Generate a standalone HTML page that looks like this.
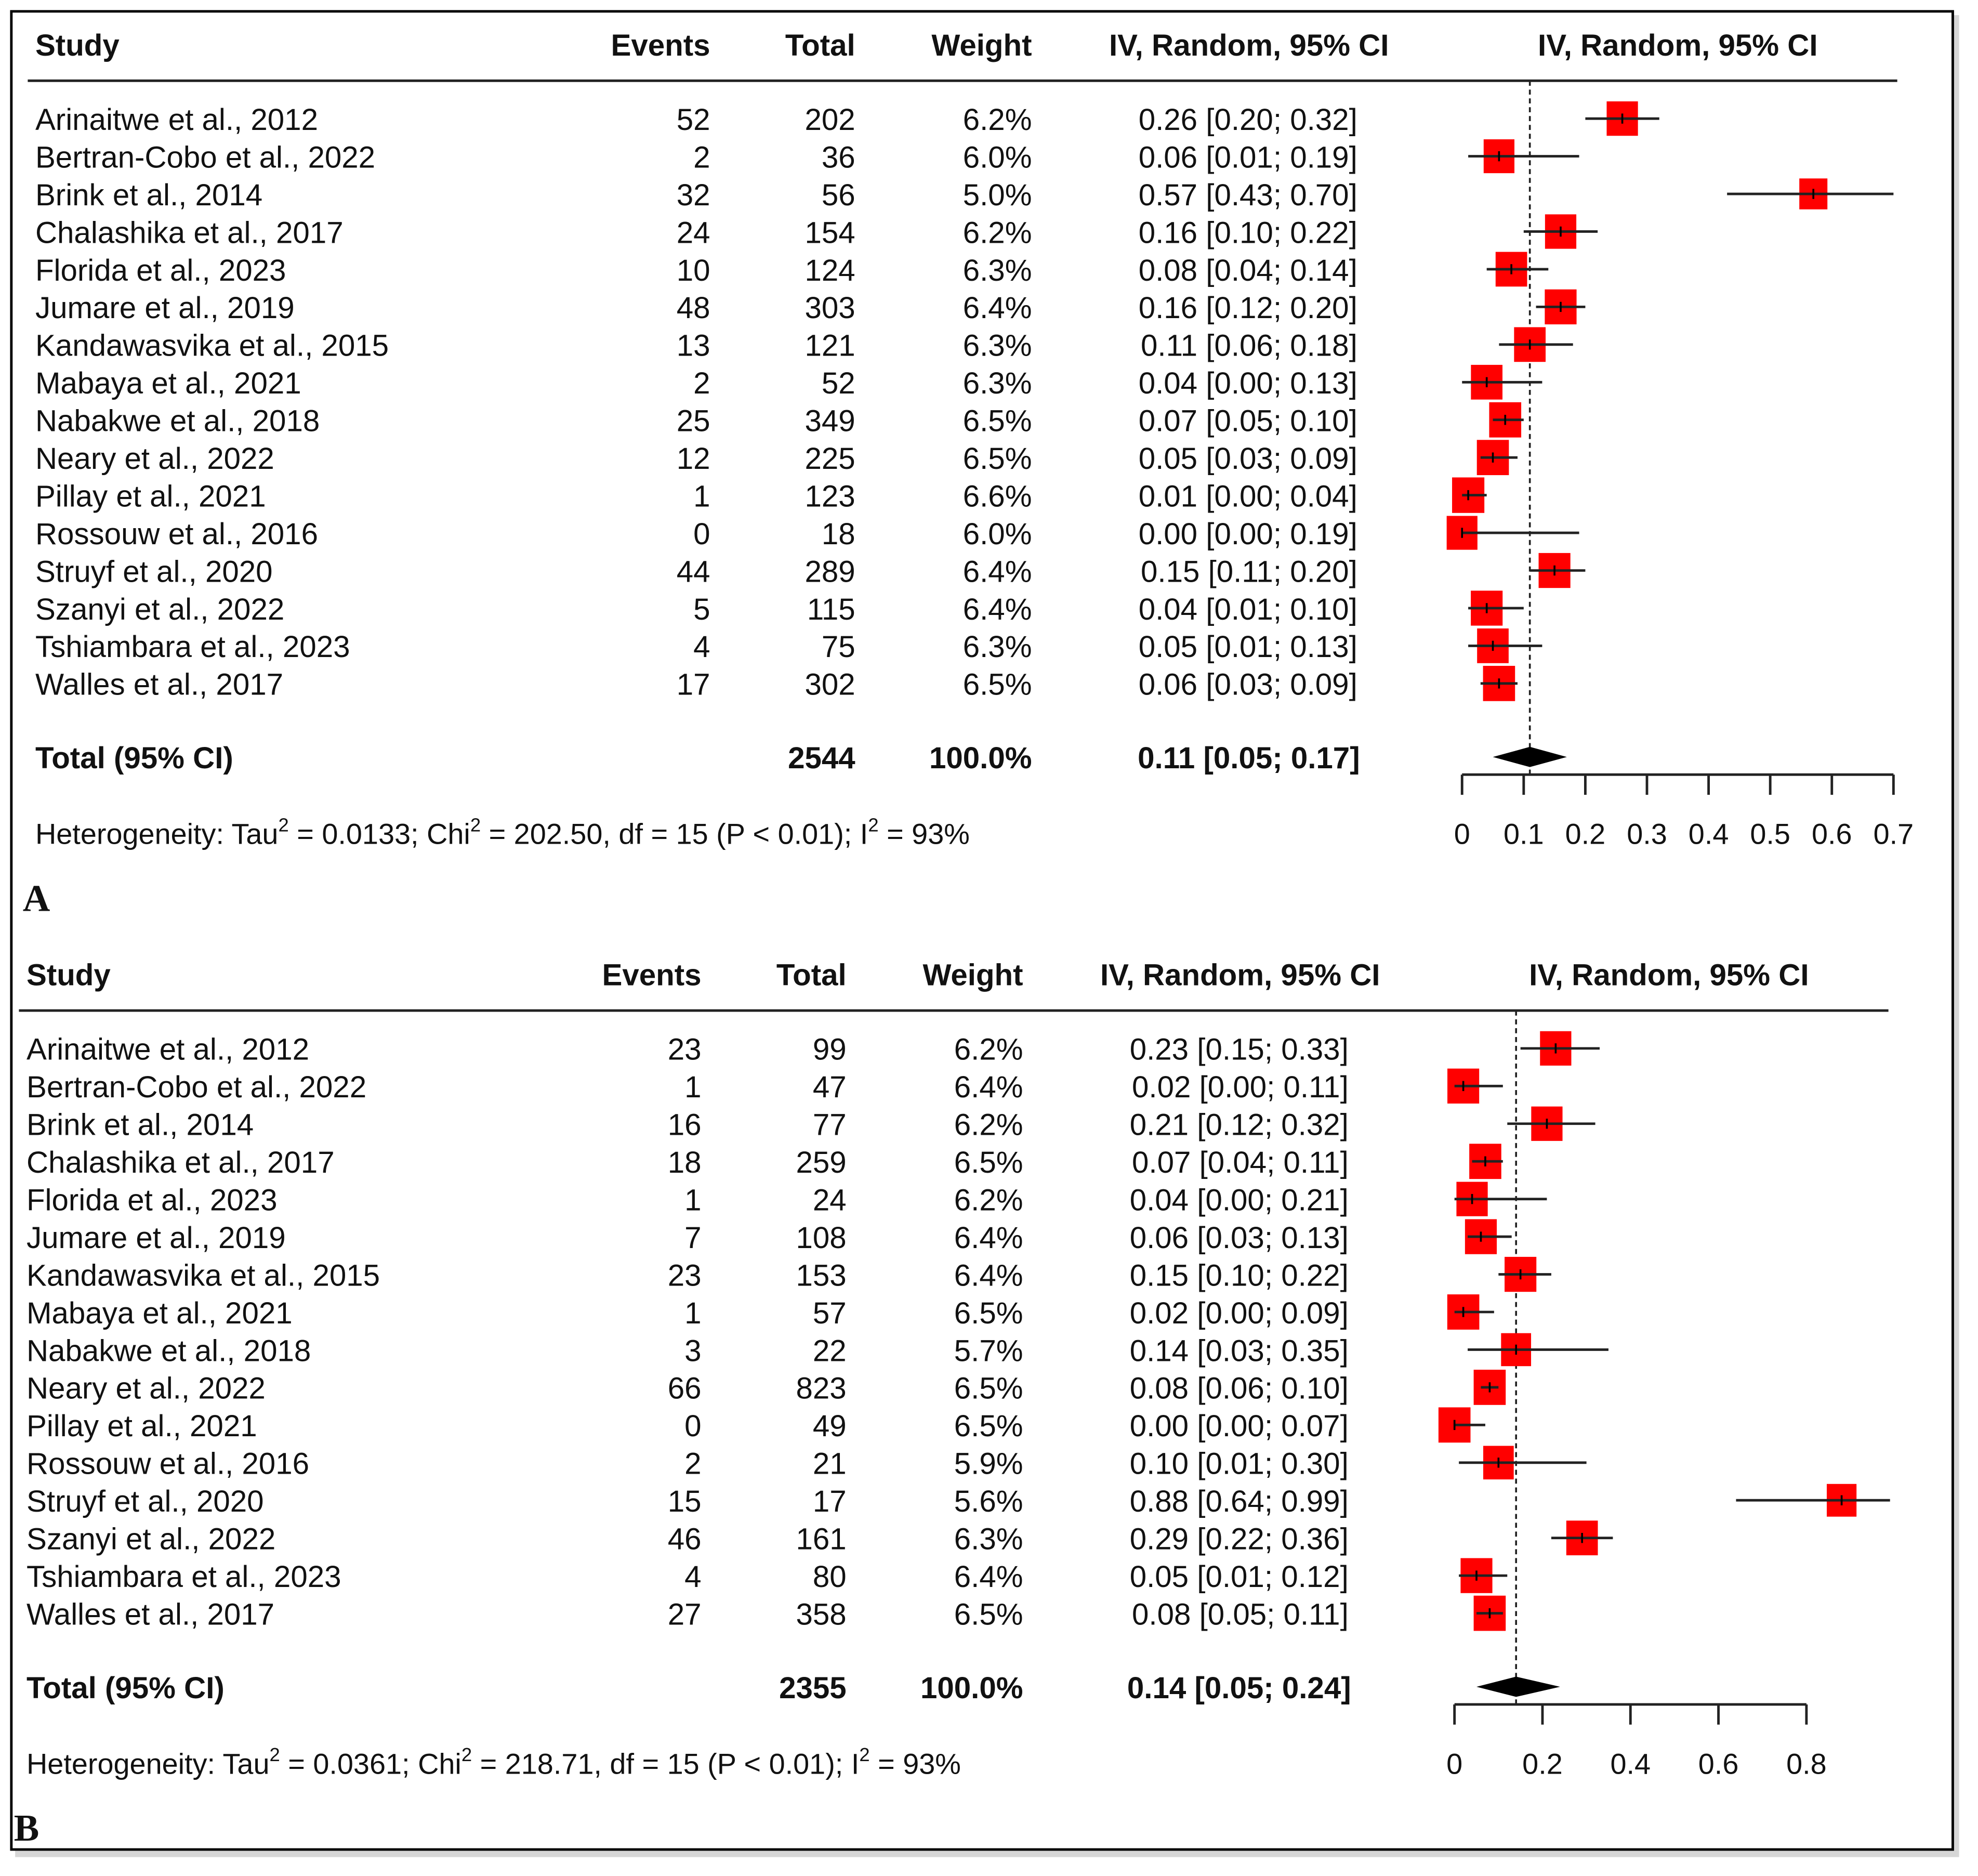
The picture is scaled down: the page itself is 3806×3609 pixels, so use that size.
<!DOCTYPE html>
<html><head><meta charset="utf-8">
<style>
html,body{margin:0;padding:0;background:#fff;}
svg{display:block;}
text{font-family:"Liberation Sans",Arial,sans-serif;fill:#111;}
</style></head>
<body>
<svg id="fig" width="3806" height="3609" viewBox="0 0 1568 1487" preserveAspectRatio="none" xmlns="http://www.w3.org/2000/svg">
<rect x="0" y="0" width="1568" height="1487" fill="#fff"/>
<rect x="12" y="12" width="1541" height="1460" fill="#bbb" opacity="0.6"/>
<rect x="9" y="9" width="1539" height="1457" fill="#fff" stroke="#000" stroke-width="2"/>
<g id="panels"></g>
</svg>
<script>
const studies = ["Arinaitwe et al., 2012","Bertran-Cobo et al., 2022","Brink et al., 2014","Chalashika et al., 2017","Florida et al., 2023","Jumare et al., 2019","Kandawasvika et al., 2015","Mabaya et al., 2021","Nabakwe et al., 2018","Neary et al., 2022","Pillay et al., 2021","Rossouw et al., 2016","Struyf et al., 2020","Szanyi et al., 2022","Tshiambara et al., 2023","Walles et al., 2017"];

const eventsA = [52,2,32,24,10,48,13,2,25,12,1,0,44,5,4,17];
const totalsA = [202,36,56,154,124,303,121,52,349,225,123,18,289,115,75,302];
const weightsA = [6.2,6.0,5.0,6.2,6.3,6.4,6.3,6.3,6.5,6.5,6.6,6.0,6.4,6.4,6.3,6.5];
const estA = [0.26,0.06,0.57,0.16,0.08,0.16,0.11,0.04,0.07,0.05,0.01,0.00,0.15,0.04,0.05,0.06];
const lowA = [0.20,0.01,0.43,0.10,0.04,0.12,0.06,0.00,0.05,0.03,0.00,0.00,0.11,0.01,0.01,0.03];
const highA = [0.32,0.19,0.70,0.22,0.14,0.20,0.18,0.13,0.10,0.09,0.04,0.19,0.20,0.10,0.13,0.09];
const summaryA = [0.11,0.05,0.17];
const ticksA = [0,0.1,0.2,0.3,0.4,0.5,0.6,0.7];

const eventsB = [23,1,16,18,1,7,23,1,3,66,0,2,15,46,4,27];
const totalsB = [99,47,77,259,24,108,153,57,22,823,49,21,17,161,80,358];
const weightsB = [6.2,6.4,6.2,6.5,6.2,6.4,6.4,6.5,5.7,6.5,6.5,5.9,5.6,6.3,6.4,6.5];
const estB = [0.23,0.02,0.21,0.07,0.04,0.06,0.15,0.02,0.14,0.08,0.00,0.10,0.88,0.29,0.05,0.08];
const lowB = [0.15,0.00,0.12,0.04,0.00,0.03,0.10,0.00,0.03,0.06,0.00,0.01,0.64,0.22,0.01,0.05];
const highB = [0.33,0.11,0.32,0.11,0.21,0.13,0.22,0.09,0.35,0.10,0.07,0.30,0.99,0.36,0.12,0.11];
const summaryB = [0.14,0.05,0.24];
const ticksB = [0,0.2,0.4,0.6,0.8];

const NS="http://www.w3.org/2000/svg";
const root=document.getElementById('panels');
function mk(tag,attrs,parent,txt){const e=document.createElementNS(NS,tag);for(const k in attrs)e.setAttribute(k,attrs[k]);if(txt!==undefined)e.textContent=txt;parent.appendChild(e);return e;}
function f2(v){return v.toFixed(2);}

function panel(cfg){
  const g=mk('g',{},root);
  
  
  const dx=cfg.dx, top=cfg.top;
  const xs=v=>cfg.x0+(v-cfg.tmin)*(cfg.x1-cfg.x0)/(cfg.tmax-cfg.tmin);
  const hy=top+19;
  const hdr=[["Study",28,"start"],["Events",563,"end"],["Total",678,"end"],["Weight",818,"end"],["IV, Random, 95% CI",1101,"end"],["IV, Random, 95% CI",1330,"middle"]];
  hdr.forEach(h=>{const t=mk('text',{x:h[1]+dx,y:hy,'font-size':24,'font-weight':'bold','text-anchor':h[2]},g,h[0]);
    
    });
  const hl=mk('line',{x1:22+dx,x2:1504+dx,y1:top+39,y2:top+39,stroke:'#222','stroke-width':2},g);
  
  
  const r0=top+69, rs=29.85;
  const axY=top+589;
  const dl=mk('line',{x1:xs(cfg.sum[0]),x2:xs(cfg.sum[0]),y1:top+39,y2:axY,stroke:'#222','stroke-width':1.5,'stroke-dasharray':'4,3'},g);
  
  
  studies.forEach((s,i)=>{
    const y=r0+i*rs, ty=y+9;
    const row=mk('g',{},g);
    
    
    mk('text',{x:28+dx,y:ty,'font-size':24},row,s);
    mk('text',{x:563+dx,y:ty,'font-size':24,'text-anchor':'end'},row,String(cfg.ev[i]));
    mk('text',{x:678+dx,y:ty,'font-size':24,'text-anchor':'end'},row,String(cfg.tot[i]));
    mk('text',{x:818+dx,y:ty,'font-size':24,'text-anchor':'end'},row,cfg.w[i].toFixed(1)+'%');
    mk('text',{x:1076+dx,y:ty,'font-size':24,'text-anchor':'end'},row,f2(cfg.est[i])+' ['+f2(cfg.lo[i])+'; '+f2(cfg.hi[i])+']');
    const sz=25*Math.sqrt(cfg.w[i]/6.3);
    const bx=mk('rect',{x:xs(cfg.est[i])-sz/2,y:y-sz*0.55,width:sz,height:sz*1.1,fill:'#ff0000'},row);
    
    
    const ci=mk('line',{x1:xs(cfg.lo[i]),x2:xs(cfg.hi[i]),y1:y,y2:y,stroke:'#222','stroke-width':2},row);
    
    
    mk('line',{x1:xs(cfg.est[i]),x2:xs(cfg.est[i]),y1:y-4,y2:y+4,stroke:'#000','stroke-width':1.5},row);
  });
  const ty=top+584;
  [["Total (95% CI)",28,"start"],[String(cfg.tot.reduce((a,b)=>a+b,0)),678,"end"],["100.0%",818,"end"],[f2(cfg.sum[0])+' ['+f2(cfg.sum[1])+'; '+f2(cfg.sum[2])+']',1078,"end"]].forEach(h=>{
    const t=mk('text',{x:h[1]+dx,y:ty,'font-size':24,'font-weight':'bold','text-anchor':h[2]},g,h[0]);
    
    
  });
  const dy=top+575;
  const dm=mk('polygon',{points:`${xs(cfg.sum[1])},${dy} ${xs(cfg.sum[0])},${dy-8} ${xs(cfg.sum[2])},${dy} ${xs(cfg.sum[0])},${dy+8}`,fill:'#000'},g);
  
  
  const ax=mk('line',{x1:xs(cfg.ticks[0]),x2:xs(cfg.ticks[cfg.ticks.length-1]),y1:axY,y2:axY,stroke:'#222','stroke-width':2},g);
  
  
  cfg.ticks.forEach(t=>{
    mk('line',{x1:xs(t),x2:xs(t),y1:axY,y2:axY+16,stroke:'#222','stroke-width':2},g);
    const tl=mk('text',{x:xs(t),y:axY+55,'font-size':23,'text-anchor':'middle'},g,String(t));
    
    
  });
  const het=mk('text',{x:28+dx,y:axY+55,'font-size':23},g);
  
  
  het.innerHTML=cfg.het;
  const lb=mk('text',{x:18+dx,y:axY+108,'font-size':30,'font-weight':'bold',style:'font-family:"Liberation Serif",serif'},g,cfg.label);
  
  
}
panel({label:'A',dx:0,top:25,x0:1159,x1:1501,tmin:0,tmax:0.7,ev:eventsA,tot:totalsA,w:weightsA,est:estA,lo:lowA,hi:highA,sum:summaryA,ticks:ticksA,
  het:'Heterogeneity: Tau<tspan dy="-10" font-size="15">2</tspan><tspan dy="10"> = 0.0133; Chi</tspan><tspan dy="-10" font-size="15">2</tspan><tspan dy="10"> = 202.50, df = 15 (P &lt; 0.01); I</tspan><tspan dy="-10" font-size="15">2</tspan><tspan dy="10"> = 93%</tspan>'});
panel({label:'B',dx:-7,top:762,x0:1153,x1:1432,tmin:0,tmax:0.8,ev:eventsB,tot:totalsB,w:weightsB,est:estB,lo:lowB,hi:highB,sum:summaryB,ticks:ticksB,
  het:'Heterogeneity: Tau<tspan dy="-10" font-size="15">2</tspan><tspan dy="10"> = 0.0361; Chi</tspan><tspan dy="-10" font-size="15">2</tspan><tspan dy="10"> = 218.71, df = 15 (P &lt; 0.01); I</tspan><tspan dy="-10" font-size="15">2</tspan><tspan dy="10"> = 93%</tspan>'});
</script>
</body></html>
